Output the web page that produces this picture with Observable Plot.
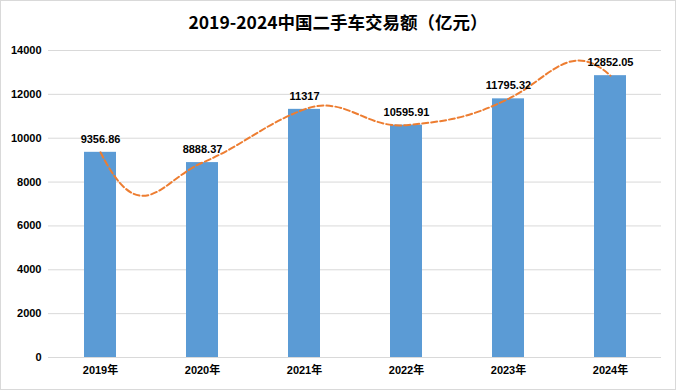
<!DOCTYPE html>
<html>
<head>
<meta charset="utf-8">
<script src="https://cdn.jsdelivr.net/npm/d3@7"></script>
<script src="https://cdn.jsdelivr.net/npm/@observablehq/plot@0.6"></script>
<style>
  html, body { margin: 0; padding: 0; background: #fff; }
  #chart { position: relative; width: 676px; height: 390px; overflow: hidden; background: #fff; }
  #chart::after { content: ""; position: absolute; inset: 0; border: 1px solid #d9d9d9; pointer-events: none; }
  #title { position: absolute; left: 0; top: 0; width: 676px; height: 40px; line-height: 44px; text-align: center;
           font-family: "Noto Sans CJK SC", "Liberation Sans", sans-serif; font-weight: bold; font-size: 17.5px; color: #000; }
  #plot { position: absolute; left: 0; top: 40px; }
</style>
</head>
<body>
<div id="chart">
  <div id="title">2019-2024中国二手车交易额（亿元）</div>
  <div id="plot"></div>
</div>
<script>
// ---- data ----
const years = ["2019年", "2020年", "2021年", "2022年", "2023年", "2024年"];
const values = [9356.86, 8888.37, 11317, 10595.91, 11795.32, 12852.05];
const yTicks = [0, 2000, 4000, 6000, 8000, 10000, 12000, 14000];

const data = years.map((year, i) => ({year, value: values[i], label: String(values[i])}));

// Smoothed, overshooting curve (Excel-style smoothed trend line)
function smoothTrend(context) {
  let pts;
  const gain = 2, arm = 0.4, endGain = 4, endBack = 3.75;
  return {
    areaStart() {}, areaEnd() {},
    lineStart() { pts = []; },
    point(x, y) { pts.push([+x, +y]); },
    lineEnd() {
      const n = pts.length;
      if (!n) return;
      context.moveTo(pts[0][0], pts[0][1]);
      if (n < 3) { for (let i = 1; i < n; ++i) context.lineTo(pts[i][0], pts[i][1]); return; }
      const t = new Array(n);
      for (let i = 1; i < n - 1; ++i) t[i] = gain * (pts[i + 1][1] - pts[i - 1][1]) / 2;
      t[0] = endGain * (pts[1][1] - pts[0][1]) - endBack * t[1];
      t[n - 1] = endGain * (pts[n - 1][1] - pts[n - 2][1]) - endBack * t[n - 2];
      for (let i = 0; i < n - 1; ++i) {
        const [x0, y0] = pts[i], [x1, y1] = pts[i + 1];
        const dx = x1 - x0;
        context.bezierCurveTo(x0 + arm * dx, y0 + arm * t[i], x1 - arm * dx, y1 - arm * t[i + 1], x1, y1);
      }
    }
  };
}

const font = "'Liberation Sans', 'Noto Sans CJK SC', sans-serif";

const chart = Plot.plot({
  width: 676,
  height: 350,
  marginTop: 10,
  marginBottom: 33,
  marginLeft: 48,
  marginRight: 15,
  style: { fontFamily: font, fontSize: "11px", fontWeight: "bold", color: "#000", background: "transparent" },
  x: { domain: years, paddingInner: 0.69, paddingOuter: 0.345, label: null, tickSize: 0, tickPadding: 9 },
  y: { domain: [0, 14000], ticks: yTicks, label: null, tickSize: 0, tickPadding: 7, tickFormat: d => String(d) },
  marks: [
    Plot.ruleY(yTicks, { stroke: "#d9d9d9", strokeWidth: 1 }),
    Plot.barY(data, { x: "year", y: "value", fill: "#5B9BD5" }),
    Plot.lineY(data, { x: "year", y: "value", stroke: "#ED7D31", strokeWidth: 2, strokeDasharray: "6,3", curve: smoothTrend }),
    Plot.text(data, { x: "year", y: "value", text: "label", dy: -13, fill: "#000", fontWeight: "bold", fontSize: 11 })
  ]
});
document.getElementById("plot").appendChild(chart);
</script>
</body>
</html>
